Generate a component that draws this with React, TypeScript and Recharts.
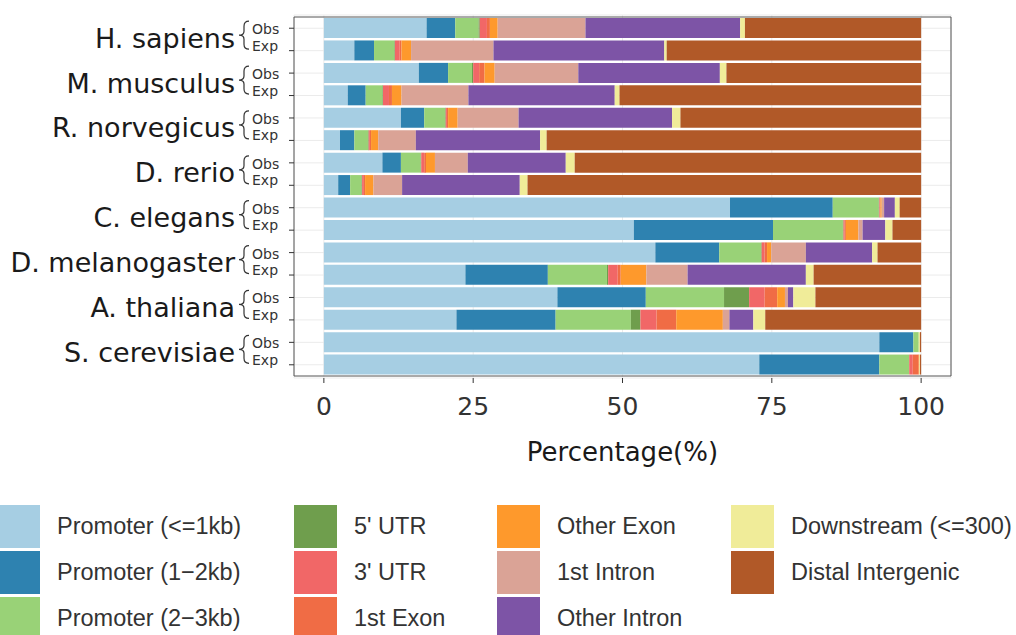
import {
  Bar,
  BarChart,
  CartesianGrid,
  ReferenceArea,
  XAxis,
  YAxis,
} from 'recharts'

const species = [
  'H. sapiens',
  'M. musculus',
  'R. norvegicus',
  'D. rerio',
  'C. elegans',
  'D. melanogaster',
  'A. thaliana',
  'S. cerevisiae',
]
const groups = ['Obs', 'Exp']

const features = [
  'Promoter (<=1kb)',
  'Promoter (1−2kb)',
  'Promoter (2−3kb)',
  "5' UTR",
  "3' UTR",
  '1st Exon',
  'Other Exon',
  '1st Intron',
  'Other Intron',
  'Downstream (<=300)',
  'Distal Intergenic',
]
const colors = [
  '#A6CEE3',
  '#2E82B0',
  '#99D277',
  '#6F9E4D',
  '#F16767',
  '#F06C45',
  '#FE992C',
  '#DAA396',
  '#7D54A6',
  '#F0EC99',
  '#B15928',
]

// row order: each species Obs then Exp, top to bottom
const promoter1 = [17.2, 5.1, 15.9, 4.0, 12.9, 2.7, 9.8, 2.4, 68.0, 51.9, 55.5, 23.7, 39.1, 22.2, 93.0, 72.9]
const promoter2 = [4.8, 3.3, 4.9, 3.0, 3.9, 2.4, 3.1, 2.0, 17.2, 23.3, 10.7, 13.8, 14.8, 16.6, 5.7, 20.1]
const promoter3 = [3.9, 3.4, 4.0, 2.8, 3.5, 2.3, 3.3, 1.9, 7.7, 11.7, 7.0, 9.9, 13.1, 12.6, 0.9, 5.0]
const utr5 = [0.2, 0.1, 0.2, 0.1, 0.1, 0.1, 0.1, 0.1, 0.1, 0.1, 0.1, 0.2, 4.2, 1.6, 0, 0]
const utr3 = [1.2, 0.8, 1.0, 1.0, 0.2, 0.2, 0.5, 0.3, 0.1, 0.2, 0.5, 1.6, 2.6, 2.7, 0, 0.6]
const exon1 = [0.5, 0.3, 0.9, 0.5, 0.2, 0.2, 0.3, 0.2, 0.1, 0.2, 0.4, 0.5, 2.1, 3.3, 0, 1.0]
const otherExon = [1.3, 1.6, 1.7, 1.6, 1.6, 1.2, 1.5, 1.4, 0.2, 2.1, 0.7, 4.3, 1.3, 7.8, 0, 0.1]
const intron1 = [14.7, 13.8, 14.0, 11.2, 10.2, 6.3, 5.5, 4.8, 0.4, 0.7, 5.8, 6.9, 0.5, 1.1, 0, 0]
const otherIntron = [25.9, 28.6, 23.7, 24.5, 25.7, 20.8, 16.4, 19.7, 1.8, 3.8, 11.1, 19.8, 0.9, 4.0, 0, 0]
const downstream = [0.8, 0.4, 1.1, 0.8, 1.4, 1.1, 1.5, 1.3, 0.8, 1.2, 0.9, 1.3, 3.7, 2.0, 0.2, 0.1]
const distal = [29.5, 42.6, 32.6, 50.5, 40.3, 62.7, 58.0, 65.9, 3.6, 4.8, 7.3, 18.0, 17.7, 26.1, 0.2, 0.2]

const xTicks = [0, 25, 50, 75, 100]

const series = [
  promoter1,
  promoter2,
  promoter3,
  utr5,
  utr3,
  exon1,
  otherExon,
  intron1,
  otherIntron,
  downstream,
  distal,
]

const rowKeys = species.flatMap((s) => groups.map((g) => `${s}|${g}`))
const data = rowKeys.map((row, i) => {
  const d: Record<string, any> = { row }
  series.forEach((vals, j) => {
    d[`k${j}`] = vals[i]
  })
  return d
})

const axisFont = 'DejaVu Sans'
const legendFont = '"Liberation Sans", Arial, sans-serif'

function RowTick({ x, y, payload }: any) {
  const [sp, grp] = String(payload.value).split('|')
  const isObs = grp === 'Obs'
  // brace spans the Obs/Exp pair
  const t = y - 7
  const b = y + 21
  const m = (t + b) / 2
  const xr = x - 40
  const xm = x - 45
  const xl = x - 50
  return (
    <g>
      <text
        x={x - 37}
        y={isObs ? y + 1 : y - 5}
        dominantBaseline="central"
        fontSize={14}
        fill="#333"
        fontFamily={axisFont}
      >
        {grp}
      </text>
      {isObs && (
        <>
          <path
            d={`M${xr},${t} Q${xm},${t} ${xm},${t + 5} L${xm},${m - 4} Q${xm},${m} ${xl},${m} Q${xm},${m} ${xm},${m + 4} L${xm},${b - 5} Q${xm},${b} ${xr},${b}`}
            fill="none"
            stroke="#333"
            strokeWidth={1.2}
          />
          <text
            x={x - 54}
            y={y + 10}
            textAnchor="end"
            dominantBaseline="central"
            fontSize={27}
            fill="#1a1a1a"
            fontFamily={axisFont}
          >
            {sp}
          </text>
        </>
      )}
    </g>
  )
}

function PctTick({ x, y, payload }: any) {
  return (
    <text
      x={x}
      y={y + 32}
      textAnchor="middle"
      fontSize={25}
      fill="#333"
      fontFamily={axisFont}
    >
      {payload.value}
    </text>
  )
}

const keyLeft = [-3, 294, 497, 731]
const keyTop = [505, 551, 597]

function LegendBlock() {
  return (
    <>
      {features.map((f, i) => {
        const col = Math.floor(i / 3)
        const r = i % 3
        return (
          <div key={f}>
            <div
              style={{
                position: 'absolute',
                left: keyLeft[col],
                top: keyTop[r],
                width: 43,
                height: 43,
                background: colors[i],
              }}
            />
            <div
              style={{
                position: 'absolute',
                left: keyLeft[col] + 60,
                top: keyTop[r],
                height: 43,
                lineHeight: '43px',
                fontSize: 23.5,
                fontFamily: legendFont,
                color: '#333',
                whiteSpace: 'nowrap',
              }}
            >
              {f}
            </div>
          </div>
        )
      })}
    </>
  )
}

export default function App() {
  return (
    <div
      style={{
        position: 'absolute',
        left: 0,
        top: 0,
        width: 1016,
        height: 635,
        overflow: 'hidden',
        background: '#fff',
      }}
    >
      <BarChart
        width={1016}
        height={635}
        data={data}
        layout="vertical"
        margin={{ top: 15, right: 65, left: 0, bottom: 0 }}
        barSize={20}
      >
        <CartesianGrid stroke="#ebebeb" />
        <XAxis
          type="number"
          domain={[-5, 105]}
          ticks={xTicks}
          allowDataOverflow
          height={257}
          axisLine={false}
          tickLine={{ stroke: '#333' }}
          tickSize={5}
          tickMargin={0}
          tick={<PctTick />}
          label={{
            value: 'Percentage(%)',
            position: 'insideTop',
            offset: 65,
            fontSize: 26,
            fill: '#1a1a1a',
            fontFamily: axisFont,
          }}
        />
        <YAxis
          type="category"
          dataKey="row"
          width={294}
          axisLine={false}
          tickLine={{ stroke: '#333' }}
          tickSize={5}
          tickMargin={0}
          interval={0}
          padding={{ top: 2, bottom: 2 }}
          tick={<RowTick />}
        />
        {features.map((f, j) => (
          <Bar
            key={f}
            dataKey={`k${j}`}
            name={f}
            stackId="a"
            fill={colors[j]}
            isAnimationActive={false}
          />
        ))}
        <ReferenceArea
          x1={-5}
          x2={105}
          fill="none"
          stroke="#555"
          strokeWidth={1}
          ifOverflow="visible"
        />
      </BarChart>
      <LegendBlock />
    </div>
  )
}
